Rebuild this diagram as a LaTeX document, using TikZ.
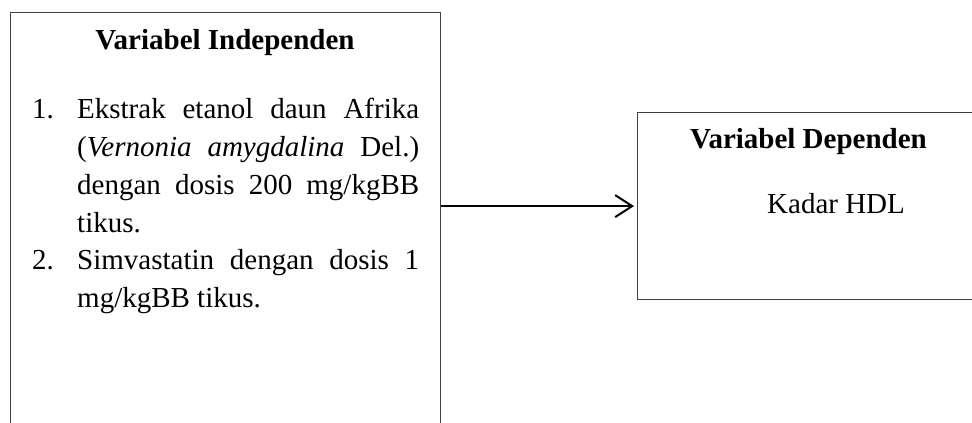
\documentclass[tikz,border=0pt]{standalone}
\usepackage{fontspec}
\setmainfont{Liberation Serif}
\usetikzlibrary{arrows.meta}
\tikzset{
  frame/.style={draw=black!75, line width=1.2pt, inner sep=0pt, anchor=north west},
  txt/.style={inner sep=0pt, font=\fontsize{29}{37.8}\selectfont},
  conn/.style={line width=2pt, -{Straight Barb[length=17pt,width=22pt,line width=2pt]}, shorten >=3pt}
}
\begin{document}
\begin{tikzpicture}[x=1pt,y=-1pt]
\useasboundingbox (0,0) rectangle (972,423);
\clip (0,0) rectangle (972,423);
\node[frame, minimum width=430pt, minimum height=430pt] (indep) at (10,12) {};
\node[frame, minimum width=360pt, minimum height=187pt] (dep) at (637,112) {};
\node[txt, anchor=base] (t1) at (225,49) {\bfseries Variabel Independen};
\node[txt, anchor=north west, text width=387pt, align=justify] (list) at (32,98) {%
\hangindent=45pt\hangafter=1\noindent\hbox to 45pt{1.\hfil}Ekstrak etanol daun Afrika\linebreak
(\textit{Vernonia amygdalina} Del.)\linebreak
dengan dosis 200 mg/kgBB\linebreak
tikus.\par
\hangindent=45pt\hangafter=1\noindent\hbox to 45pt{2.\hfil}Simvastatin dengan dosis 1\linebreak
mg/kgBB tikus.\par};
\node[txt, anchor=base west] (t2) at (690,148) {\bfseries Variabel Dependen};
\node[txt, anchor=base west] (t3) at (767,213) {Kadar HDL};
\draw[conn] (dep.west -| indep.east) -- (dep.west);
\end{tikzpicture}
\end{document}
